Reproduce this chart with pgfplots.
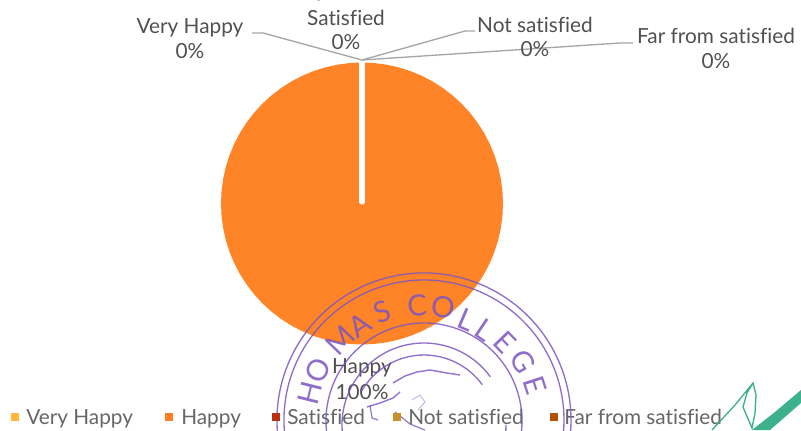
\documentclass[border=0pt]{standalone}
\usepackage{fontspec}
\setmainfont{Lato}[Ligatures=NoCommon]
\usepackage{pgfplots}
\pgfplotsset{compat=1.18}
\definecolor{labc}{HTML}{505050}
\definecolor{legc}{HTML}{666666}
\definecolor{lead}{HTML}{A6A6A6}
\definecolor{stamp}{HTML}{7B55C0}
\definecolor{sig}{HTML}{3DB08C}
\definecolor{pieorange}{RGB}{254,132,39}
\tikzset{
  lb/.style={font=\fontsize{15.6}{18}\selectfont, text=labc, inner sep=0pt},
  lg/.style={font=\fontsize{15.6}{18}\selectfont, text=legc, inner sep=0pt, anchor=base west},
}
\newcommand{\SL}[4]{\node[text=stamp,opacity=.85,rotate=#3,font=\fontsize{22}{22}\selectfont] at (axis cs:#1,#2) {#4};}
\newcommand{\RR}[4]{\draw[stamp,opacity=.85,line width=1pt] ([shift={(#3:#2*.75pt)}]axis cs:424,#1) arc[start angle=#3,end angle=#4,radius=#2*.75pt];}
\begin{document}
\begin{tikzpicture}
\begin{axis}[
  name=a, at={(0,0)}, anchor=south west,
  scale only axis, width=600.75pt, height=322.5pt,
  xmin=0, xmax=801, ymin=0, ymax=430, y dir=reverse,
  hide axis, clip=true,
]
% pie: Happy = 100%
\addplot[draw=none, fill=pieorange] coordinates {
(503,203.5)(502.46,215.79)(500.86,227.98)(498.2,239.99)(494.5,251.72)(489.79,263.09)
(484.11,274)(477.5,284.37)(470.01,294.13)(461.7,303.2)(452.63,311.51)(442.87,319)
(432.5,325.61)(421.59,331.29)(410.22,336)(398.49,339.7)(386.48,342.36)(374.29,343.96)
(362,344.5)(349.71,343.96)(337.52,342.36)(325.51,339.7)(313.78,336)(302.41,331.29)
(291.5,325.61)(281.13,319)(271.37,311.51)(262.3,303.2)(253.99,294.13)(246.5,284.37)
(239.89,274)(234.21,263.09)(229.5,251.72)(225.8,239.99)(223.14,227.98)(221.54,215.79)
(221,203.5)(221.54,191.21)(223.14,179.02)(225.8,167.01)(229.5,155.28)(234.21,143.91)
(239.89,133)(246.5,122.63)(253.99,112.87)(262.3,103.8)(271.37,95.49)(281.13,88)
(291.5,81.39)(302.41,75.71)(313.78,71)(325.51,67.3)(337.52,64.64)(349.71,63.04)
(362,62.5)(374.29,63.04)(386.48,64.64)(398.49,67.3)(410.22,71)(421.59,75.71)
(432.5,81.39)(442.87,88)(452.63,95.49)(461.7,103.8)(470.01,112.87)(477.5,122.63)
(484.11,133)(489.79,143.91)(494.5,155.28)(498.2,167.01)(500.86,179.02)(502.46,191.21)} -- cycle;
% slit of the zero slices
\addplot[white, line width=3.8pt, line cap=round] coordinates {(362,58)(362,202)};
% leader lines
\addplot[lead, line width=1pt] coordinates {(252,33)(263,33)(362,60)};
\addplot[lead, line width=1pt] coordinates {(362,60)(465,31)(475,31)};
\addplot[lead, line width=1pt] coordinates {(362,60)(620,43)(633,43)};
% legend markers
\addplot[only marks, mark=square*, mark size=2.7pt, color={rgb,255:red,255;green,184;blue,58}] coordinates {(15,417)};
\addplot[only marks, mark=square*, mark size=2.7pt, color={rgb,255:red,254;green,127;blue,36}] coordinates {(169,417)};
\addplot[only marks, mark=square*, mark size=2.7pt, color={rgb,255:red,184;green,48;blue,15}] coordinates {(276,417)};
\addplot[only marks, mark=square*, mark size=2.7pt, color={rgb,255:red,200;green,146;blue,42}] coordinates {(397,417)};
\addplot[only marks, mark=square*, mark size=2.7pt, color={rgb,255:red,176;green,80;blue,0}] coordinates {(554,417)};
% labels
\node[lb] at (axis cs:190,28) {Very Happy};
\node[lb] at (axis cs:190,51) {0\%};
\node[lb] at (axis cs:346,18) {Satisfied};
\node[lb] at (axis cs:346,42) {0\%};
\node[lb,anchor=base east] at (axis cs:326,-3) {Very};
\node[lb] at (axis cs:535,25) {Not satisfied};
\node[lb] at (axis cs:535,49) {0\%};
\node[lb] at (axis cs:716,36) {Far from satisfied};
\node[lb] at (axis cs:716,61) {0\%};
\node[lb] at (axis cs:362,368) {Happy};
\node[lb] at (axis cs:362,392) {100\%};
% legend text
\node[lg] at (axis cs:26,424) {Very Happy};
\node[lg] at (axis cs:181,424) {Happy};
\node[lg] at (axis cs:287,424) {Satisfied};
\node[lg] at (axis cs:408,424) {Not satisfied};
\node[lg] at (axis cs:564,424) {Far from satisfied};
% stamp
\RR{420}{147}{200}{-20}
\RR{420}{140}{200}{-20}
\RR{421}{98}{200}{-20}
\RR{425}{82}{190}{36}
\RR{427}{72}{150}{36}
\RR{425}{82}{-14}{0}
\SL{310}{393}{76}{H}
\SL{318}{370}{65}{O}
\SL{340}{340}{46}{M}
\SL{360}{325}{34}{A}
\SL{382}{312}{21}{S}
\SL{417}{305}{3}{C}
\SL{443}{307}{-10}{O}
\SL{467}{320}{-23}{L}
\SL{485}{330}{-34}{L}
\SL{505}{342}{-46}{E}
\SL{523}{362}{-60}{G}
\SL{535}{385}{-72}{E}
% globe outline of the stamp
\addplot[stamp, opacity=.8, line width=1.1pt] coordinates {(393,383)(405,376)(417,372)(430,370)(447,373)(460,375)};
\addplot[stamp, opacity=.8, line width=1.1pt] coordinates {(367,407)(380,403)(393,398)(400,392)};
\addplot[stamp, opacity=.8, line width=.9pt] coordinates {(370,405)(372,418)(378,420)};
\addplot[stamp, opacity=.8, line width=.9pt] coordinates {(395,412)(410,424)(425,430)};
\addplot[stamp, opacity=.5, line width=.6pt] coordinates {(412,400)(420,395)(425,402)(418,410)};
% signature
\addplot[sig, line width=1pt] coordinates {(712,430)(735,405)(753,383)(756,395)(755,413)(752,428)(743,407)(747,393)(753,383)};
\addplot[draw=none, fill=sig] coordinates {(752,430)(775,412)(801,390)(801,403)(770,430)} -- cycle;
\end{axis}
\pgfresetboundingbox
\path[use as bounding box] (0,0) rectangle (600.75pt,322.5pt);
\end{tikzpicture}
\end{document}
